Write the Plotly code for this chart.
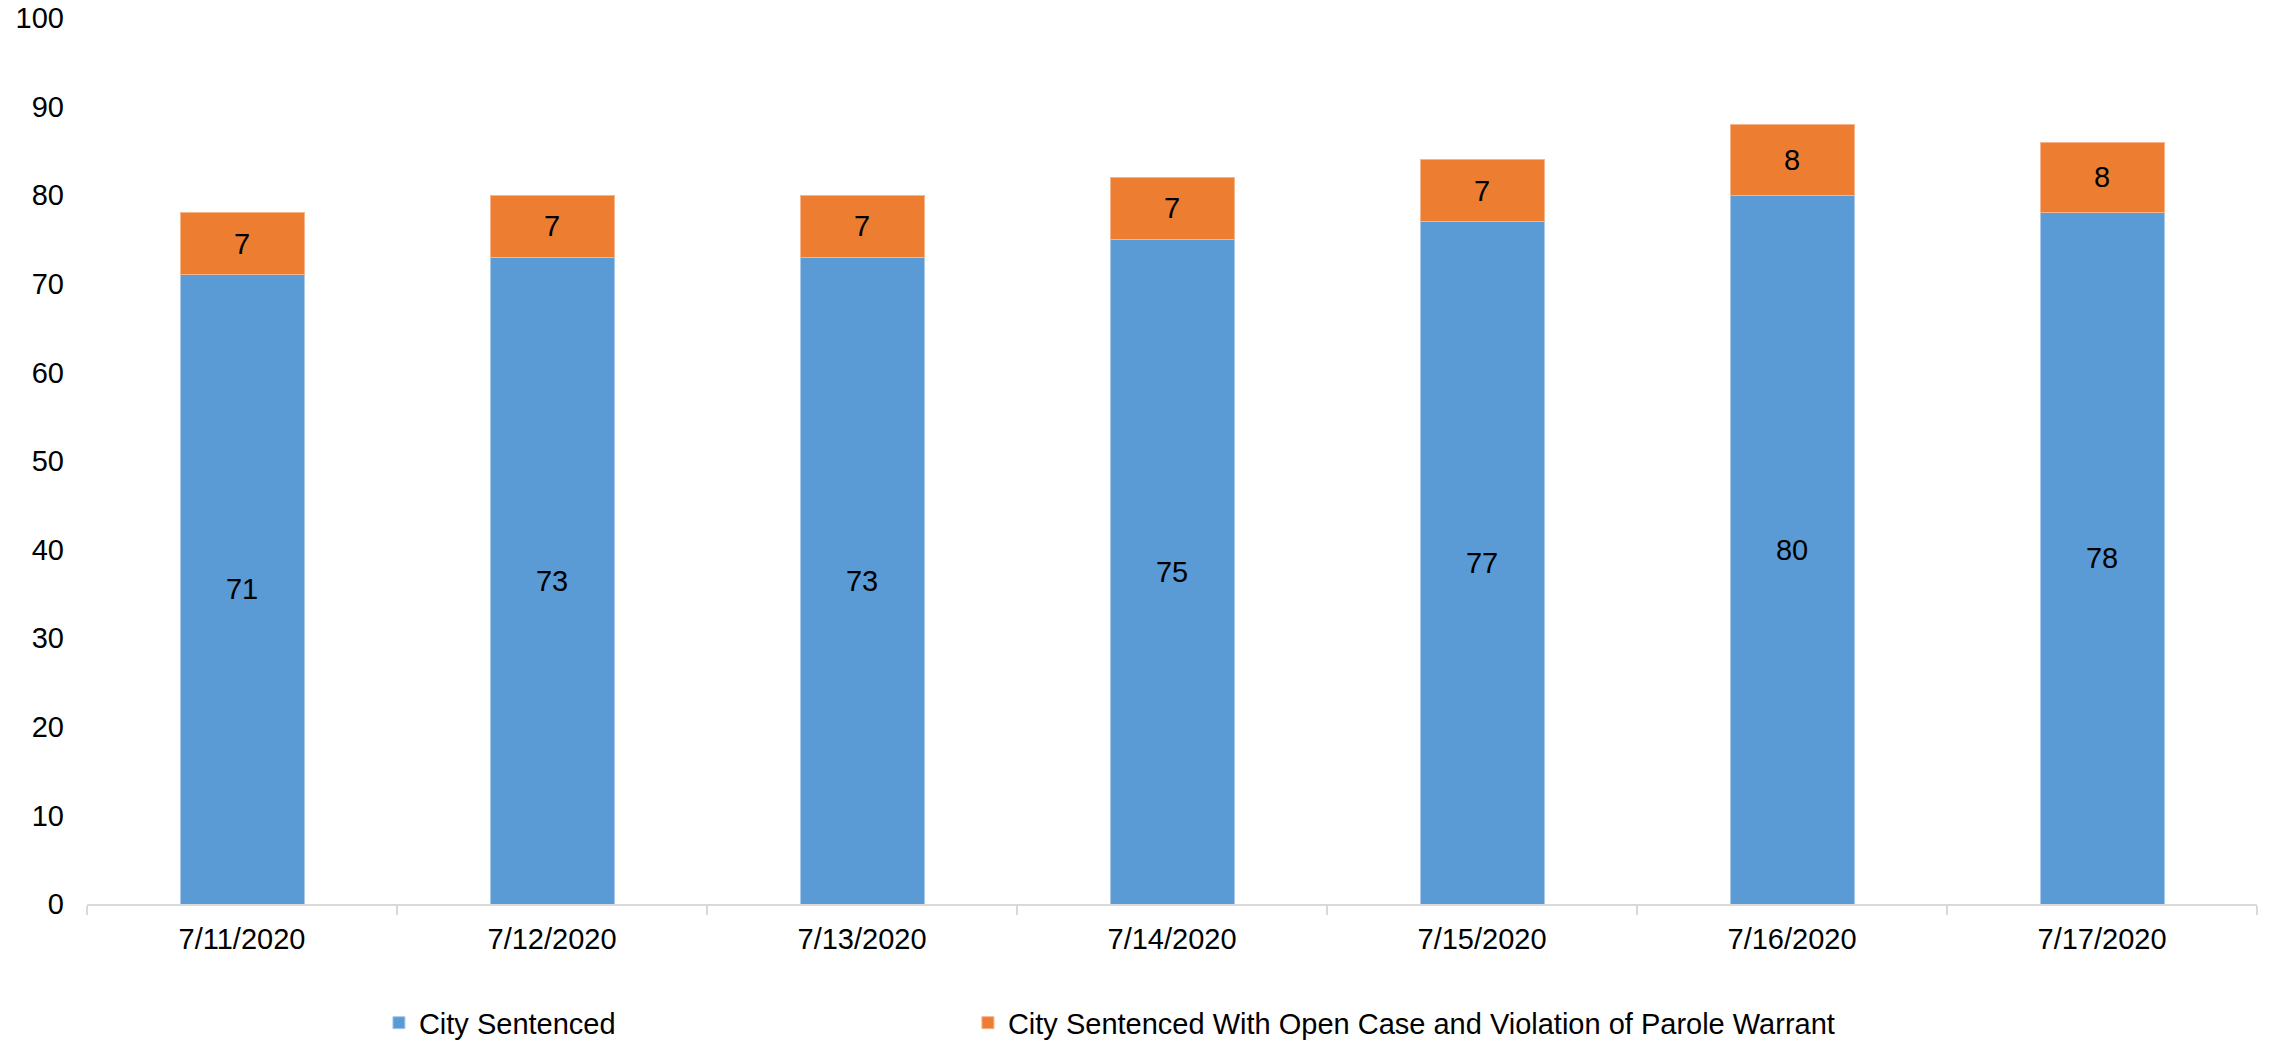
import plotly.graph_objects as go

dates = ["7/11/2020", "7/12/2020", "7/13/2020", "7/14/2020", "7/15/2020", "7/16/2020", "7/17/2020"]
city_sentenced = [71, 73, 73, 75, 77, 80, 78]
open_case_parole = [7, 7, 7, 7, 7, 8, 8]
y_ticks = [0, 10, 20, 30, 40, 50, 60, 70, 80, 90, 100]

FONT = "Arial, Liberation Sans, sans-serif"
FS = 29

fig = go.Figure()
fig.add_trace(go.Bar(
    x=dates, y=city_sentenced, name="City Sentenced",
    marker=dict(color="#5B9BD5", line=dict(color="#A9C8EA", width=1)),
    text=city_sentenced, textposition="inside", insidetextanchor="middle",
    textangle=0, constraintext="none",
    textfont=dict(family=FONT, size=FS, color="black"),
    legendwidth=544,
))
fig.add_trace(go.Bar(
    x=dates, y=open_case_parole,
    name="City Sentenced With Open Case and Violation of Parole Warrant",
    marker=dict(color="#ED7D31", line=dict(color="#F5B48A", width=1)),
    text=open_case_parole, textposition="inside", insidetextanchor="middle",
    textangle=0, constraintext="none",
    textfont=dict(family=FONT, size=FS, color="black"),
    legendwidth=900,
))

fig.update_layout(
    barmode="stack",
    bargap=0.6,
    width=2269, height=1040,
    margin=dict(l=87, r=12, t=18, b=136, autoexpand=False),
    paper_bgcolor="white", plot_bgcolor="white",
    font=dict(family=FONT, size=FS, color="black"),
    showlegend=True,
    legend=dict(
        orientation="h",
        xref="container", yref="container",
        x=0.167, xanchor="left",
        y=0.0165, yanchor="middle",
        font=dict(family=FONT, size=FS, color="black"),
        traceorder="normal",
    ),
    xaxis=dict(
        type="category",
        showline=True, linecolor="#D9D9D9", linewidth=2,
        ticks="outside", tickson="boundaries", ticklen=9, tickcolor="#D9D9D9", tickwidth=2,
        showgrid=False, zeroline=False,
        tickfont=dict(family=FONT, size=FS, color="black"),
        ticklabelstandoff=8,
    ),
    yaxis=dict(
        range=[0, 100], tickvals=y_ticks,
        showline=False, showgrid=False, zeroline=False,
        ticks="", ticklabelstandoff=22,
        tickfont=dict(family=FONT, size=FS, color="black"),
    ),
)

fig.write_html(
    "out.html",
    config={"displayModeBar": False},
    post_script="document.body.style.margin='0px';document.body.style.overflow='hidden';",
)
